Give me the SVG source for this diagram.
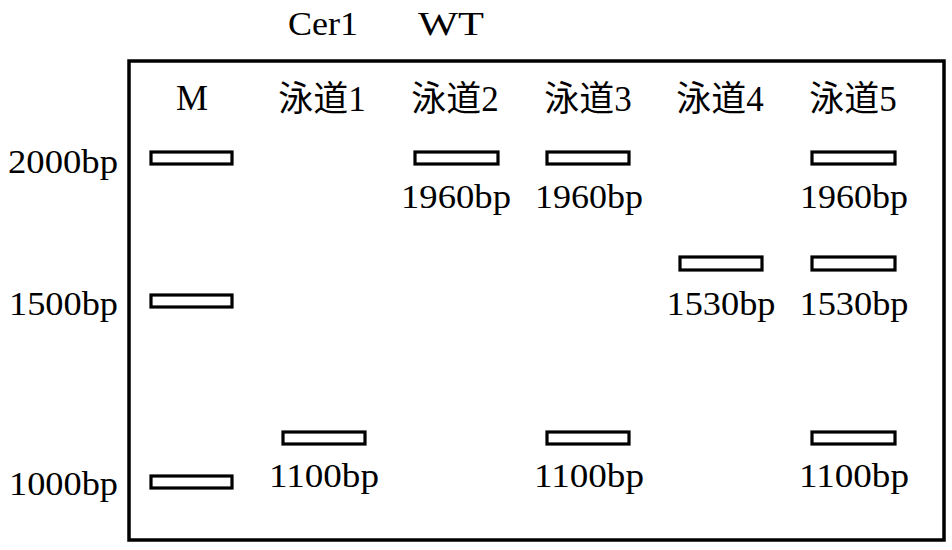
<svg xmlns="http://www.w3.org/2000/svg" width="952" height="550" viewBox="0 0 952 550">
<style>
text{font-family:"Liberation Serif","Noto Sans CJK SC",serif;fill:#000}
.n{font-size:34px}
.h{font-size:35px;text-anchor:middle}
.c{text-anchor:middle}
.band{fill:#fff;stroke:#000;stroke-width:3.2}
.frame{fill:#fff;stroke:#000;stroke-width:3.5}
</style>
<rect width="952" height="550" fill="#fff"/>
<g id="frame"><rect class="frame" x="129" y="61" width="815" height="479"/></g>
<g id="top-labels">
<text class="n c" x="323" y="35" textLength="70" lengthAdjust="spacingAndGlyphs">Cer1</text>
<text class="n c" x="451" y="35" textLength="66" lengthAdjust="spacingAndGlyphs">WT</text>
</g>
<g id="lane-headers">
<text class="h" x="192" y="110" textLength="32" lengthAdjust="spacingAndGlyphs">M</text>
<text class="h" x="322" y="111">泳道1</text>
<text class="h" x="455" y="111">泳道2</text>
<text class="h" x="588" y="111">泳道3</text>
<text class="h" x="720" y="111">泳道4</text>
<text class="h" x="853" y="111">泳道5</text>
</g>
<g id="marker-labels">
<text class="n" x="8" y="173" textLength="110" lengthAdjust="spacingAndGlyphs">2000bp</text>
<text class="n" x="9" y="315" textLength="109" lengthAdjust="spacingAndGlyphs">1500bp</text>
<text class="n" x="9" y="495" textLength="109" lengthAdjust="spacingAndGlyphs">1000bp</text>
</g>
<g id="lane-M">
<rect class="band" x="151" y="152" width="81" height="12"/>
<rect class="band" x="151" y="295" width="81" height="12"/>
<rect class="band" x="151" y="476" width="81" height="12"/>
</g>
<g id="lane-1">
<rect class="band" x="283" y="432" width="82" height="12"/>
<text class="n c" x="324" y="487" textLength="110" lengthAdjust="spacingAndGlyphs">1100bp</text>
</g>
<g id="lane-2">
<rect class="band" x="415" y="152" width="83" height="12"/>
<text class="n c" x="456" y="208" textLength="110" lengthAdjust="spacingAndGlyphs">1960bp</text>
</g>
<g id="lane-3">
<rect class="band" x="547" y="152" width="82" height="12"/>
<text class="n c" x="589" y="208" textLength="108" lengthAdjust="spacingAndGlyphs">1960bp</text>
<rect class="band" x="547" y="432" width="82" height="12"/>
<text class="n c" x="589" y="487" textLength="110" lengthAdjust="spacingAndGlyphs">1100bp</text>
</g>
<g id="lane-4">
<rect class="band" x="680" y="257" width="82" height="13"/>
<text class="n c" x="721" y="315" textLength="109" lengthAdjust="spacingAndGlyphs">1530bp</text>
</g>
<g id="lane-5">
<rect class="band" x="812" y="152" width="83" height="12"/>
<text class="n c" x="854" y="208" textLength="108" lengthAdjust="spacingAndGlyphs">1960bp</text>
<rect class="band" x="812" y="257" width="83" height="13"/>
<text class="n c" x="854" y="315" textLength="109" lengthAdjust="spacingAndGlyphs">1530bp</text>
<rect class="band" x="812" y="432" width="83" height="12"/>
<text class="n c" x="854" y="487" textLength="110" lengthAdjust="spacingAndGlyphs">1100bp</text>
</g>
<g id="connectors"></g>
</svg>
